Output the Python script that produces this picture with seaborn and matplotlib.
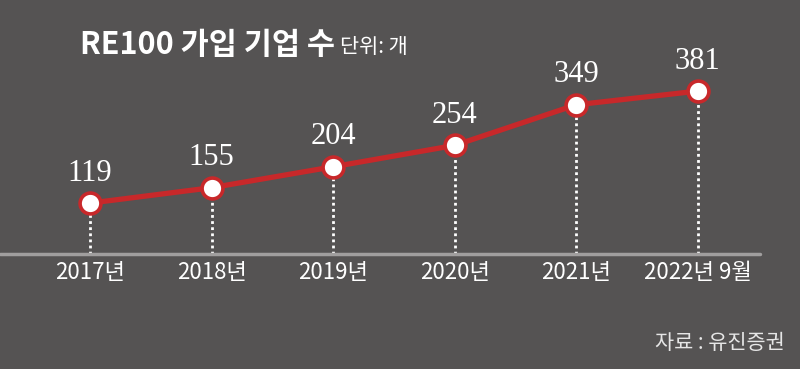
import seaborn as sns
import matplotlib.pyplot as plt
import pandas as pd

years = ['2017년', '2018년', '2019년', '2020년', '2021년', '2022년 9월']
members = [119, 155, 204, 254, 349, 381]

bg = '#555353'
red = '#c8282a'

sns.set_theme(style='white')
plt.rcParams['font.family'] = ['Noto Sans CJK KR', 'DejaVu Sans']

df = pd.DataFrame({'pos': range(len(years)), 'members': members})

fig = plt.figure(figsize=(8, 3.69), dpi=100, facecolor=bg)
ax = fig.add_axes([0, 0.3117, 1, 0.6883])
ax.set_facecolor(bg)

# dotted drop lines from each point to the baseline
ax.vlines(df['pos'], 0, df['members'], colors='white', linewidth=2,
          linestyles=(0, (1, 1.2)), zorder=1)

sns.lineplot(data=df, x='pos', y='members', ax=ax, color=red, linewidth=3.8,
             marker='o', markersize=15, markerfacecolor='white',
             markeredgecolor=red, markeredgewidth=2.6, zorder=3)

# value labels above each point
for i, v in enumerate(members):
    ax.annotate(str(v), (i, v), xytext=(0, 11), textcoords='offset points',
                ha='center', va='bottom', color='white', fontsize=22,
                family=['Liberation Serif', 'DejaVu Serif'])

ax.set_xlim(-0.74, 5.84)
ax.set_ylim(0, 594)
ax.axhline(0, xmin=0, xmax=760 / 800, color='#a09e9e', linewidth=2.5, clip_on=False)
for s in ax.spines.values():
    s.set_visible(False)
ax.set_xlabel('')
ax.set_ylabel('')
ax.set_yticks([])
ax.set_xticks(df['pos'])
ax.set_xticklabels(years, color='white', fontsize=16, fontweight='medium')
ax.tick_params(axis='x', length=0, pad=5)

fig.text(80 / 800, 1 - 45 / 369, 'RE100 가입 기업 수', color='white', fontsize=22,
         fontweight='bold', ha='left', va='center')
fig.text(340 / 800, 1 - 47 / 369, '단위: 개', color='white', fontsize=15,
         ha='left', va='center')
fig.text(785 / 800, 1 - 343 / 369, '자료 : 유진증권', color='#e6e6e6', fontsize=15,
         ha='right', va='center')

fig.savefig('out.png', dpi=100, facecolor=bg)
